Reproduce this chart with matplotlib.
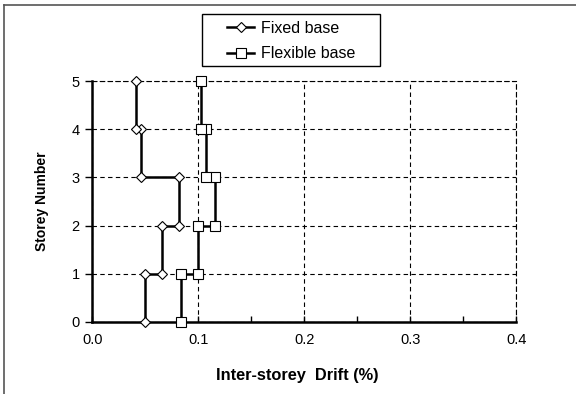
import numpy as np
import matplotlib.pyplot as plt
from matplotlib.lines import Line2D
from matplotlib.patches import Rectangle
from matplotlib.ticker import MultipleLocator

plt.rcParams['font.family'] = ['Liberation Sans', 'DejaVu Sans']

storey = [0, 1, 1, 2, 2, 3, 3, 4, 4, 5]
fixed_drift = [0.0496, 0.0496, 0.0656, 0.0656, 0.0822, 0.0822, 0.0458, 0.0458, 0.0410, 0.0410]
flex_drift = [0.0836, 0.0836, 0.0996, 0.0996, 0.1155, 0.1155, 0.1075, 0.1075, 0.1023, 0.1023]

W, H = 576, 394
fig = plt.figure(figsize=(W / 100, H / 100), dpi=100)
ax = fig.add_axes([0.160, 0.183, 0.736, 0.611])

ax.plot(fixed_drift, storey, color='black', lw=1.8, marker='D', ms=5,
        mfc='white', mec='black', mew=0.8, label='Fixed base', clip_on=False, zorder=3)
ax.plot(flex_drift, storey, color='black', lw=1.8, marker='s', ms=7,
        mfc='white', mec='black', mew=0.8, label='Flexible base', clip_on=False, zorder=3)

ax.set_xlim(0, 0.4)
ax.set_ylim(0, 5)
ax.xaxis.set_minor_locator(MultipleLocator(0.05))
ax.yaxis.set_major_locator(MultipleLocator(1))
ax.set_xticks([0, 0.1, 0.2, 0.3, 0.4])
ax.set_xticklabels(['0.0', '0.1', '0.2', '0.3', '0.4'])
ax.tick_params(axis='x', which='both', direction='in', length=4, width=1, labelsize=10.5, pad=8)
ax.tick_params(axis='y', which='major', direction='out', length=5, width=1, labelsize=10.5, pad=4)
ax.grid(True, which='major', color='black', linestyle=(0, (4, 3)), lw=0.8)

ax.spines['left'].set_linewidth(1.8)
ax.spines['bottom'].set_linewidth(1.8)
for s in ['top', 'right']:
    ax.spines[s].set_linestyle((0, (4, 3)))
    ax.spines[s].set_linewidth(0.8)

ax.set_xlabel('Inter-storey  Drift (%)', fontsize=11.8, fontweight='bold')
ax.xaxis.set_label_coords(0.485, -0.19)
ax.set_ylabel('Storey Number', fontsize=10, fontweight='bold', labelpad=16)

leg = fig.legend(loc='center', bbox_to_anchor=(291 / W, 1 - 41 / H), fontsize=11.5,
                 frameon=False, handlelength=1.7, handletextpad=0.4,
                 borderpad=0, labelspacing=0.65)

# legend box
fig.add_artist(Rectangle((202 / W, 1 - 66 / H), 178 / W, 52 / H, transform=fig.transFigure,
                         fill=False, edgecolor='black', lw=1.0))

# figure border (left and top only visible)
fig.add_artist(Line2D([0.007, 0.007], [0, 0.987], color='#555555', lw=1.2))
fig.add_artist(Line2D([0.007, 1.0], [0.987, 0.987], color='#555555', lw=1.2))

fig.savefig('out.png', dpi=100)
